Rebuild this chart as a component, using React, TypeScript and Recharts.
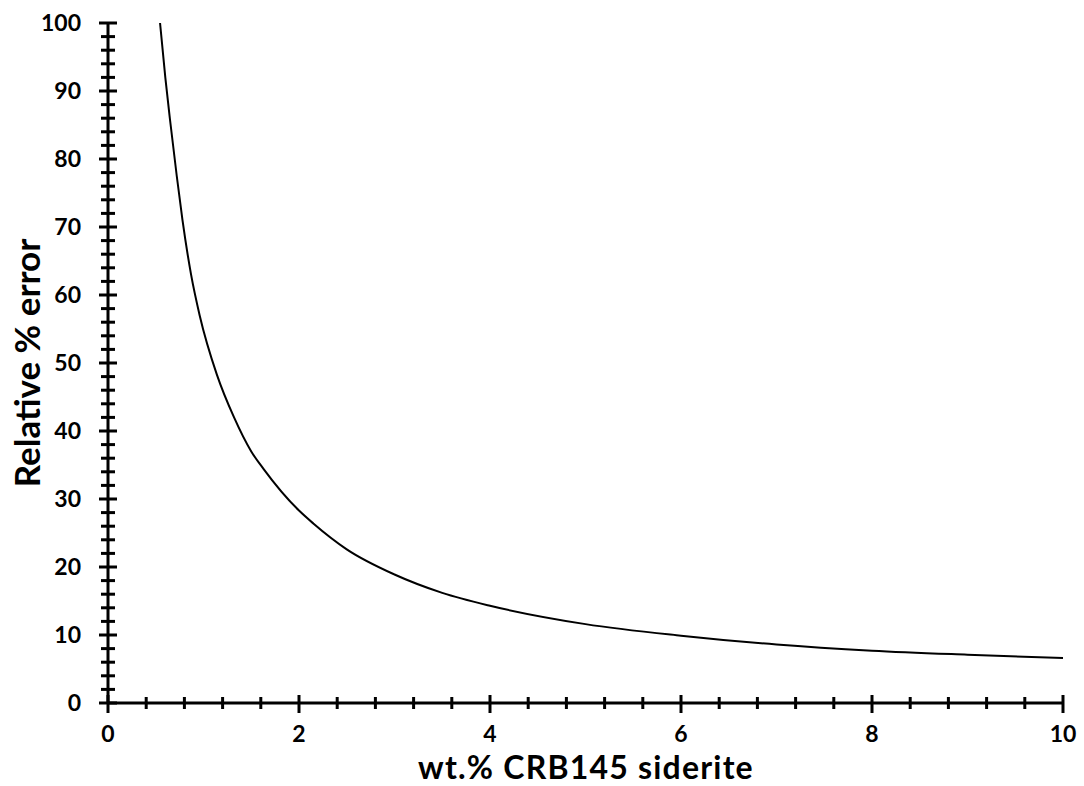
import { Line, LineChart, XAxis, YAxis } from "recharts";

// values
const wtPct = [0.545, 0.6, 0.65, 0.72, 0.78, 0.87, 0.96, 1.14, 1.32, 1.5, 1.63, 2, 2.15, 2.5, 3, 3.5, 4, 5, 6, 7, 8, 9, 10];
const relError = [100, 92, 85.7, 77.5, 71, 63, 57, 48.3, 42, 37, 34.4, 28.3, 26.4, 22.6, 18.9, 16.2, 14.3, 11.6, 9.9, 8.6, 7.7, 7.1, 6.6];

const xTicks = [0, 0.4, 0.8, 1.2, 1.6, 2, 2.4, 2.8, 3.2, 3.6, 4, 4.4, 4.8, 5.2, 5.6, 6, 6.4, 6.8, 7.2, 7.6, 8, 8.4, 8.8, 9.2, 9.6, 10];
const xMajor = [0, 2, 4, 6, 8, 10];
const yTicks = [
  0, 2, 4, 6, 8, 10, 12, 14, 16, 18, 20, 22, 24, 26, 28, 30, 32, 34, 36, 38, 40, 42, 44, 46, 48, 50,
  52, 54, 56, 58, 60, 62, 64, 66, 68, 70, 72, 74, 76, 78, 80, 82, 84, 86, 88, 90, 92, 94, 96, 98, 100,
];
const yMajor = [0, 10, 20, 30, 40, 50, 60, 70, 80, 90, 100];

const data = wtPct.map((x, i) => ({ x, err: relError[i] }));

const FONT = "Lato, 'Open Sans', sans-serif";

function XTick(props: any) {
  const { x, y, payload } = props;
  const major = xMajor.includes(payload.value);
  return (
    <g>
      <line x1={x} x2={x} y1={y - (major ? 8 : 6)} y2={y + (major ? 10 : 6)} stroke="#000" strokeWidth={3} />
      {major && (
        <text x={x} y={y + 39} textAnchor="middle" fontFamily={FONT} fontWeight={700} fontSize={23} fill="#000">
          {payload.value}
        </text>
      )}
    </g>
  );
}

function YTick(props: any) {
  const { x, y, payload } = props;
  const major = yMajor.includes(payload.value);
  return (
    <g>
      <line x1={x - (major ? 9 : 7)} x2={x + (major ? 9 : 7)} y1={y} y2={y} stroke="#000" strokeWidth={3} />
      {major && (
        <text x={x - 27} y={y + 8} textAnchor="end" fontFamily={FONT} fontWeight={700} fontSize={23} fill="#000">
          {payload.value}
        </text>
      )}
    </g>
  );
}

export default function App() {
  return (
    <div style={{ position: "absolute", left: 0, top: 0, width: 1084, height: 786, background: "#fff" }}>
      <LineChart width={1084} height={786} data={data} margin={{ top: 23, right: 21, bottom: 0, left: 0 }}>
        <XAxis
          dataKey="x"
          type="number"
          domain={[0, 10]}
          ticks={xTicks}
          interval={0}
          height={83}
          tickSize={0}
          tickMargin={0}
          tick={<XTick />}
          axisLine={{ stroke: "#000", strokeWidth: 3 }}
          tickLine={false}
        />
        <YAxis
          type="number"
          domain={[0, 100]}
          ticks={yTicks}
          interval={0}
          width={108}
          tickSize={0}
          tickMargin={0}
          tick={<YTick />}
          axisLine={{ stroke: "#000", strokeWidth: 3 }}
          tickLine={false}
        />
        <Line type="monotone" dataKey="err" stroke="#000" strokeWidth={2} dot={false} isAnimationActive={false} />
      </LineChart>
      <div
        style={{
          position: "absolute",
          left: 0,
          width: 1172,
          top: 748,
          textAlign: "center",
          fontFamily: FONT,
          fontWeight: 700,
          fontSize: 32,
          letterSpacing: 1.2,
          lineHeight: "38px",
        }}
      >
        wt.% CRB145 siderite
      </div>
      <div
        style={{
          position: "absolute",
          left: 26,
          top: 363,
          transform: "translate(-50%, -50%) rotate(-90deg)",
          whiteSpace: "nowrap",
          fontFamily: FONT,
          fontWeight: 700,
          fontSize: 35,
          lineHeight: "36px",
        }}
      >
        Relative % error
      </div>
    </div>
  );
}
